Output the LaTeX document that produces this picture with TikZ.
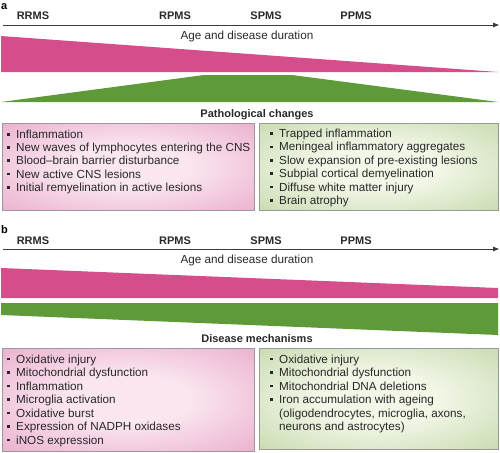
\documentclass[tikz,border=0pt]{standalone}
\usepackage{fontspec}
\setmainfont{Liberation Sans}
\usetikzlibrary{arrows.meta}
\definecolor{mag}{RGB}{214,77,139}
\definecolor{grn}{RGB}{94,154,55}
\definecolor{pin}{RGB}{250,230,240}
\definecolor{pout}{RGB}{226,145,186}
\definecolor{gin}{RGB}{243,247,232}
\definecolor{gout}{RGB}{176,203,146}
\definecolor{axisc}{RGB}{60,60,60}
\definecolor{txt}{RGB}{40,40,40}
\pgfdeclareradialshading{pinkbox}{\pgfpoint{0bp}{0bp}}{color(0bp)=(pin); color(12bp)=(pin); color(50bp)=(pout); color(75bp)=(pout)}
\pgfdeclareradialshading{greenbox}{\pgfpoint{0bp}{0bp}}{color(0bp)=(gin); color(12bp)=(gin); color(50bp)=(gout); color(75bp)=(gout)}
\newcommand\bul{\makebox[9pt][l]{\raisebox{0.22em}{\rule{2.7pt}{2.7pt}}}}
\begin{document}
\begin{tikzpicture}[x=1pt,y=-1pt,
  lbl/.style={font=\fontsize{11}{13}\selectfont\bfseries, text=txt, inner sep=0, anchor=base},
  sub/.style={font=\fontsize{11.7}{13}\selectfont, text=txt, inner sep=0, anchor=base},
  ttl/.style={font=\fontsize{11}{13}\selectfont\bfseries, text=txt, inner sep=0, anchor=base},
  item/.style={font=\fontsize{11.7}{13}\selectfont, text=txt, inner sep=0, anchor=base west},
  axisline/.style={draw=axisc, line width=0.8pt, -{Triangle[length=6pt,width=4.5pt]}},
  pbox/.style={draw=gray!80, line width=0.6pt, shading=pinkbox},
  gbox/.style={draw=gray!80, line width=0.6pt, shading=greenbox},
  panel/.style={font=\fontsize{11}{13}\selectfont\bfseries, inner sep=0, anchor=base west}]
\useasboundingbox (0,0) rectangle (500,452);
% ---------- panel a ----------
\node[panel] (pa) at (1,10) {a};
\coordinate (a0) at (3,25);
\coordinate (a1) at (499,25);
\draw[axisline] (a0) -- (a1);
\node[lbl] (rr1) at (33,20) {RRMS};
\node[lbl] (rp1) at (175,20) {RPMS};
\node[lbl] (sp1) at (266,20) {SPMS};
\node[lbl] (pp1) at (356,20) {PPMS};
\node[sub] (age1) at (247,40) {Age and disease duration};
\fill[mag] (1,36) -- (498,72) -- (1,72) -- cycle;
\fill[grn] (1,102) -- (204,75) -- (292,75) -- (498,102) -- cycle;
\node[ttl] (t1) at (257,117) {Pathological changes};
\path[pbox] (2,123) rectangle (254,210);
\path[gbox] (259,123) rectangle (498,210);
\foreach \t [count=\i] in {Inflammation,New waves of lymphocytes entering the CNS,Blood--brain barrier disturbance,New active CNS lesions,Initial remyelination in active lesions}
  \node[item] (la\i) at (7,{124.8+13.3*\i}) {\bul\t};
\foreach \t [count=\i] in {Trapped inflammation,Meningeal inflammatory aggregates,Slow expansion of pre-existing lesions,Subpial cortical demyelination,Diffuse white matter injury,Brain atrophy}
  \node[item] (ra\i) at (270,{124+13.4*\i}) {\bul\t};
% ---------- panel b ----------
\node[panel] (pb) at (1,233) {b};
\coordinate (b0) at (3,249);
\coordinate (b1) at (499,249);
\draw[axisline] (b0) -- (b1);
\node[lbl] (rr2) at (33,244) {RRMS};
\node[lbl] (rp2) at (175,244) {RPMS};
\node[lbl] (sp2) at (266,244) {SPMS};
\node[lbl] (pp2) at (356,244) {PPMS};
\node[sub] (age2) at (247,263) {Age and disease duration};
\fill[mag] (1,268) -- (498,288) -- (498,298) -- (1,298) -- cycle;
\fill[grn] (1,303) -- (498,303) -- (498,335) -- (1,315) -- cycle;
\node[ttl] (t2) at (257,342) {Disease mechanisms};
\path[pbox] (2,348) rectangle (254,451);
\path[gbox] (259,348) rectangle (498,449);
\foreach \t [count=\i] in {Oxidative injury,Mitochondrial dysfunction,Inflammation,Microglia activation,Oxidative burst,Expression of NADPH oxidases,iNOS expression}
  \node[item] (lb\i) at (7,{349.5+13.5*\i}) {\bul\t};
\foreach \t [count=\i] in {Oxidative injury,Mitochondrial dysfunction,Mitochondrial DNA deletions,Iron accumulation with ageing,{\hspace*{9pt}(oligodendrocytes, microglia, axons,},{\hspace*{9pt}neurons and astrocytes)}}
  \node[item] (rb\i) at (270,{349.5+13.5*\i}) {\ifnum\i<5 \bul\fi\t};
\end{tikzpicture}
\end{document}
